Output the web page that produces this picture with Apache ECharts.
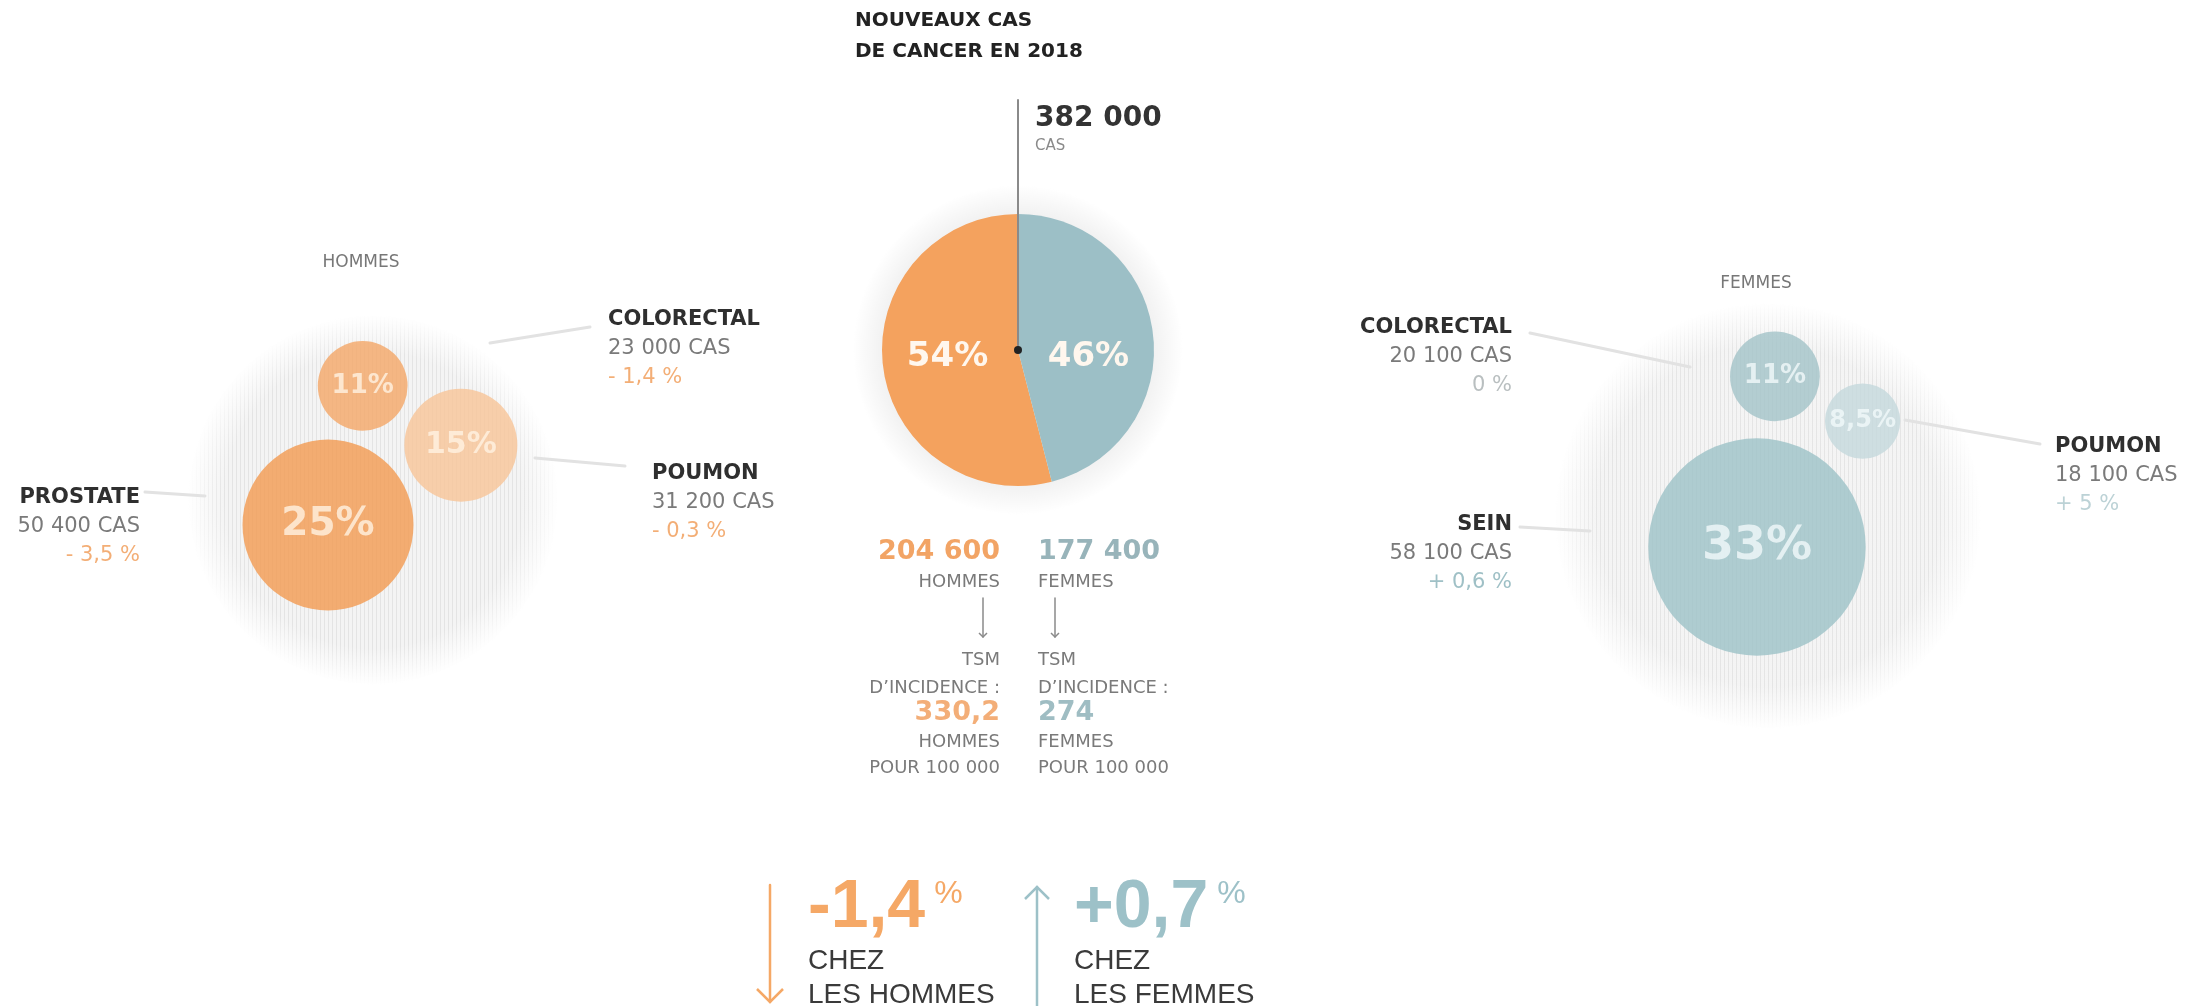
<!DOCTYPE html>
<html>
<head>
<meta charset="utf-8">
<title>Nouveaux cas de cancer en 2018</title>
<script src="https://cdn.jsdelivr.net/npm/echarts@6/dist/echarts.min.js"></script>
<style>
  html, body { margin: 0; padding: 0; background: #fff; }
  #chart { width: 2192px; height: 1006px; }
</style>
</head>
<body>
<div id="chart"></div>
<script>
// ---- données ----
const sexNames = ['Hommes', 'Femmes'];
const sexShare = [54, 46];
const sexCases = [204600, 177400];
const totalCases = 382000;
const tsmRate = [330.2, 274];
const yearTrend = [-1.4, 0.7];

const menSites = ['Prostate', 'Colorectal', 'Poumon'];
const menShare = [25, 11, 15];
const menCases = [50400, 23000, 31200];
const menTrend = [-3.5, -1.4, -0.3];

const womenSites = ['Sein', 'Colorectal', 'Poumon'];
const womenShare = [33, 11, 8.5];
const womenCases = [58100, 20100, 18100];
const womenTrend = [0.6, 0, 5];

// ---- mise en page / styles ----
const W = 2192, H = 1006;
const ORANGE = '#F4A25E', BLUE = '#9CBFC6';
const menColors = ['#F39A50', '#F4A666', '#F7C497'];
const womenColors = ['#9CC2C7', '#A2C3C8', '#C4D8DC'];
const pieCenter = [1018, 350], pieRadius = 136;

// la plus grosse bulle sert d'ancre, les autres viennent s'y coller selon un angle
const menLayout = { anchor: [328, 525], angles: [0, -76, -31], gap: 13 };
const womenLayout = { anchor: [1757, 547], angles: [0, -84, -50], gap: 18 };

// position des textes de chaque localisation (x, y de la 1re ligne, alignement)
const menLabelPos = [[140, 498, 'right'], [608, 320, 'left'], [652, 474, 'left']];
const womenLabelPos = [[1512, 525, 'right'], [1512, 328, 'right'], [2055, 447, 'left']];
const menLeaders = [[145, 492, 205, 496], [490, 343, 590, 327], [535, 458, 625, 466]];
const womenLeaders = [[1520, 527, 1590, 531], [1530, 333, 1690, 367], [1905, 420, 2040, 444]];

const BOLD = 'bold 21px "DejaVu Sans"';
const REG = '21px "DejaVu Sans"';
const SMALL = '18px "DejaVu Sans"';

function radius(p) { return 13 + 2.9 * p; }
function fmtNum(n) { return String(n).replace(/\B(?=(\d{3})+(?!\d))/g, ' '); }
function fmtPct(p) { return String(p).replace('.', ',') + '%'; }
function fmtTrend(t) {
  if (t === 0) return '0 %';
  return (t > 0 ? '+ ' : '- ') + String(Math.abs(t)).replace('.', ',') + ' %';
}
function trendColor(t, light) {
  if (t === 0) return '#b9bfc0';
  if (t > 0) return light ? '#bcd2d6' : '#9FC0C6';
  return '#F3AE76';
}

const measureCtx = document.createElement('canvas').getContext('2d');
function textWidth(s, font) { measureCtx.font = font; return measureCtx.measureText(s).width; }

function bubbleData(shares, layout, colors, labelColor) {
  const r0 = radius(shares[0]);
  return shares.map((p, i) => {
    const r = radius(p);
    let x = layout.anchor[0], y = layout.anchor[1];
    if (i > 0) {
      const d = r0 + r + layout.gap, a = layout.angles[i] * Math.PI / 180;
      x += d * Math.cos(a);
      y += d * Math.sin(a);
    }
    return {
      value: [x, y, p],
      symbolSize: 2 * r,
      itemStyle: { color: colors[i] },
      label: { fontSize: Math.round(12 + 0.31 * r), color: labelColor }
    };
  });
}

// ---- éléments graphiques (textes, traits) ----
const graphics = [];
function addText(x, y, text, font, fill, align) {
  graphics.push({
    type: 'text', x: x, y: y, z: 20, silent: true,
    style: { text: text, font: font, fill: fill, align: align || 'left', textAlign: align || 'left',
             verticalAlign: 'middle', textVerticalAlign: 'middle' }
  });
}
function addLine(x1, y1, x2, y2, color, width, z) {
  graphics.push({ type: 'line', z: z, silent: true, shape: { x1, y1, x2, y2 },
    style: { stroke: color, lineWidth: width, lineCap: 'round' } });
}
function addArrow(x, yFrom, yTo, head, color, width) {
  addLine(x, yFrom, x, yTo, color, width, 20);
  const dir = yTo > yFrom ? -1 : 1;
  graphics.push({ type: 'polyline', z: 20, silent: true,
    shape: { points: [[x - head, yTo + dir * head], [x, yTo], [x + head, yTo + dir * head]] },
    style: { stroke: color, lineWidth: width, fill: null } });
}

// motif de hachures verticales pour les fonds
const stripe = document.createElement('canvas');
stripe.width = 4; stripe.height = 4;
const sctx = stripe.getContext('2d');
sctx.fillStyle = '#f5f5f5'; sctx.fillRect(0, 0, 4, 4);
sctx.fillStyle = '#e2e2e2'; sctx.fillRect(0, 0, 1, 4);

function halo(cx, cy, r, inner, hatched) {
  graphics.push({ type: 'circle', z: 0, silent: true, shape: { cx, cy, r },
    style: { fill: inner } });
  if (hatched) {
    graphics.push({ type: 'circle', z: 0, silent: true, shape: { cx, cy, r },
      style: { fill: { image: stripe, repeat: 'repeat' }, opacity: 0.8 } });
  }
  // fondu blanc sur le bord
  graphics.push({ type: 'circle', z: 0, silent: true, shape: { cx, cy, r: r + 1 },
    style: { fill: new echarts.graphic.RadialGradient(0.5, 0.5, 0.5, [
      { offset: 0, color: 'rgba(255,255,255,0)' }, { offset: 0.8, color: 'rgba(255,255,255,0)' },
      { offset: 1, color: 'rgba(255,255,255,1)' }
    ]) } });
}

halo(373, 500, 184, '#f1f1f1', true);
halo(1768, 516, 212, '#f1f1f1', true);
halo(pieCenter[0], pieCenter[1], 164, '#f0f0f0', false);

// titre et total
addText(855, 21, 'NOUVEAUX CAS', 'bold 20px "DejaVu Sans"', '#222');
addText(855, 52, 'DE CANCER EN 2018', 'bold 20px "DejaVu Sans"', '#222');
addLine(pieCenter[0], 100, pieCenter[0], pieCenter[1], '#8a8a8a', 2, 10);
graphics.push({ type: 'circle', z: 11, silent: true, shape: { cx: pieCenter[0], cy: pieCenter[1], r: 4 }, style: { fill: '#222' } });
addText(1035, 119, fmtNum(totalCases), 'bold 28px "DejaVu Sans"', '#333');
addText(1035, 146, 'CAS', '15px "DejaVu Sans"', '#8a8a8a');

// titres des groupes
addText(361, 263, 'HOMMES', '17px "DejaVu Sans"', '#777', 'center');
addText(1756, 284, 'FEMMES', '17px "DejaVu Sans"', '#777', 'center');

// étiquettes des localisations
function siteLabels(sites, cases, trend, pos, leaders) {
  sites.forEach((s, i) => {
    const [x, y, al] = pos[i];
    addText(x, y, s.toUpperCase(), BOLD, '#2f2f2f', al);
    addText(x, y + 29, fmtNum(cases[i]) + ' CAS', REG, '#7a7a7a', al);
    addText(x, y + 58, fmtTrend(trend[i]), REG, trendColor(trend[i], i === 2), al);
    const l = leaders[i];
    addLine(l[0], l[1], l[2], l[3], '#e2e2e2', 3, 1);
  });
}
siteLabels(menSites, menCases, menTrend, menLabelPos, menLeaders);
siteLabels(womenSites, womenCases, womenTrend, womenLabelPos, womenLeaders);

// colonne centrale hommes / femmes
const colX = [1000, 1038], colAlign = ['right', 'left'];
const caseColors = ['#F2A465', '#98B4BA'], tsmColors = ['#F3AE78', '#9FBDC3'];
sexNames.forEach((n, i) => {
  const x = colX[i], al = colAlign[i];
  addText(x, 552, fmtNum(sexCases[i]), 'bold 27px "DejaVu Sans"', caseColors[i], al);
  addText(x, 582, n.toUpperCase(), SMALL, '#7a7a7a', al);
  addArrow([983, 1055][i], 598, 637, 4, '#8a8a8a', 1.5);
  addText(x, 660, 'TSM', SMALL, '#7a7a7a', al);
  addText(x, 688, 'D\u2019INCIDENCE :', SMALL, '#7a7a7a', al);
  addText(x, 713, String(tsmRate[i]).replace('.', ','), 'bold 27px "DejaVu Sans"', tsmColors[i], al);
  addText(x, 742, n.toUpperCase(), SMALL, '#7a7a7a', al);
  addText(x, 768, 'POUR 100 000', SMALL, '#7a7a7a', al);
});

// évolution annuelle en bas
const bigFont = 'bold 68px "Liberation Sans"';
const trendX = [808, 1074], arrowX = [770, 1037];
const trendColors = ['#F5A866', '#9DC1C8'];
yearTrend.forEach((t, i) => {
  const s = (t < 0 ? '-' : '+') + String(Math.abs(t)).replace('.', ',');
  addText(trendX[i], 908, s, bigFont, trendColors[i]);
  addText(trendX[i] + textWidth(s, bigFont) + 9, 894, '%', '32px "Liberation Sans"', trendColors[i]);
  addText(trendX[i], 961, 'CHEZ', '28px "Liberation Sans"', '#3a3a3a');
  addText(trendX[i], 995, 'LES ' + sexNames[i].toUpperCase(), '28px "Liberation Sans"', '#3a3a3a');
  if (t < 0) addArrow(arrowX[i], 885, 1002, 13, trendColors[i], 2.5);
  else addArrow(arrowX[i], 1006, 887, 12, trendColors[i], 2.5);
});

// ---- graphique ----
const chart = echarts.init(document.getElementById('chart'));
const bubbleLabel = {
  show: true, position: 'inside', fontWeight: 'bold', fontFamily: 'DejaVu Sans',
  formatter: p => fmtPct(p.value[2])
};
chart.setOption({
  animation: false,
  grid: { left: 0, right: 0, top: 0, bottom: 0 },
  xAxis: { type: 'value', min: 0, max: W, show: false },
  yAxis: { type: 'value', min: 0, max: H, inverse: true, show: false },
  graphic: { elements: graphics },
  series: [
    {
      name: 'Hommes', type: 'scatter', symbol: 'circle', silent: true,
      label: bubbleLabel,
      data: bubbleData(menShare, menLayout, menColors, '#fff3e2')
    },
    {
      name: 'Femmes', type: 'scatter', symbol: 'circle', silent: true,
      label: bubbleLabel,
      data: bubbleData(womenShare, womenLayout, womenColors, '#f1f9fa')
    },
    {
      name: 'Répartition', type: 'pie', center: pieCenter, radius: pieRadius,
      startAngle: 90, clockwise: false, silent: true,
      label: {
        show: true, position: 'inner', formatter: p => p.value + '%',
        color: '#fff7ee', fontSize: 34, fontWeight: 'bold', fontFamily: 'DejaVu Sans'
      },
      labelLayout: () => ({ y: pieCenter[1] + 7 }),
      labelLine: { show: false },
      data: sexNames.map((n, i) => ({ name: n, value: sexShare[i], itemStyle: { color: [ORANGE, BLUE][i] } }))
    }
  ]
});
</script>
</body>
</html>
